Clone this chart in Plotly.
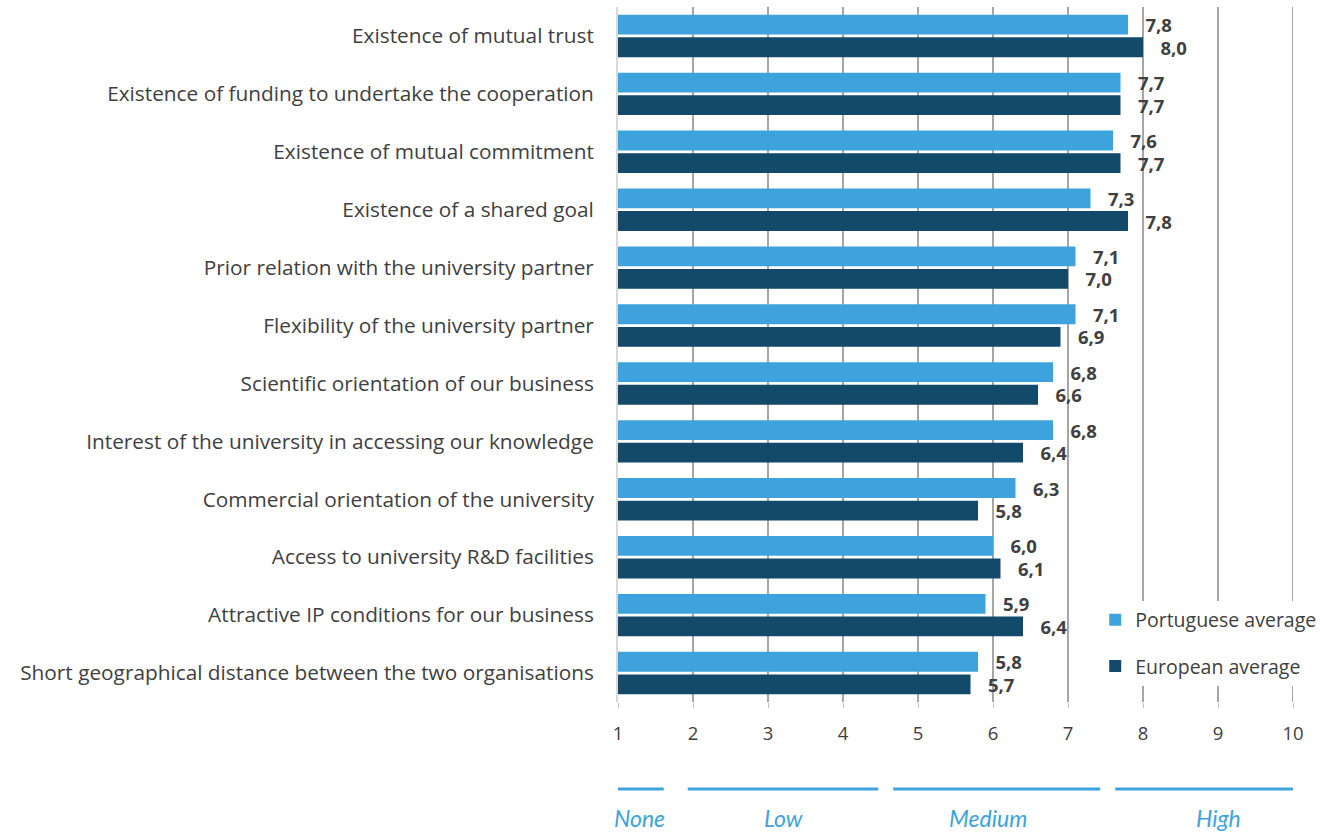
import plotly.graph_objects as go

categories = [
    "Existence of mutual trust",
    "Existence of funding to undertake the cooperation",
    "Existence of mutual commitment",
    "Existence of a shared goal",
    "Prior relation with the university partner",
    "Flexibility of the university partner",
    "Scientific orientation of our business",
    "Interest of the university in accessing our knowledge",
    "Commercial orientation of the university",
    "Access to university R&D facilities",
    "Attractive IP conditions for our business",
    "Short geographical distance between the two organisations",
]
portuguese = [7.8, 7.7, 7.6, 7.3, 7.1, 7.1, 6.8, 6.8, 6.3, 6.0, 5.9, 5.8]
european = [8.0, 7.7, 7.7, 7.8, 7.0, 6.9, 6.6, 6.4, 5.8, 6.1, 6.4, 5.7]
series_names = ["Portuguese average", "European average"]
tick_values = [1, 2, 3, 4, 5, 6, 7, 8, 9, 10]
band_labels = ["None", "Low", "Medium", "High"]

# decorative layout for the scale bands (axis units)
band_line_x = [(0.92, 1.61), (1.93, 4.47), (4.67, 7.43), (7.63, 10.16)]
band_text_x = [1.29, 3.2, 5.93, 9.0]

FONT = "Open Sans"
TXT = "#404040"
LIGHT = "#3EA3DC"
DARK = "#134A6A"
GRID = "#A6A6A6"


def fmt(v):
    return "\u00a0\u00a0\u00a0" + f"{v:.1f}".replace(".", ",")


fig = go.Figure()
for name, vals, col in [(series_names[0], portuguese, LIGHT), (series_names[1], european, DARK)]:
    fig.add_trace(go.Bar(
        name=name, y=categories, x=[v - 1 for v in vals], base=1,
        orientation="h", marker=dict(color=col, line=dict(width=0)),
        text=[fmt(v) for v in vals], textposition="outside",
        textfont=dict(family=FONT, size=18.5, color=TXT, weight="bold"),
        constraintext="none", cliponaxis=False, legendgroup=name,
        hoverinfo="skip",
    ))

# gridline at the right end of the axis (plotly omits it at the range edge)
fig.add_shape(type="line", xref="x", yref="paper", x0=tick_values[-1], x1=tick_values[-1],
              y0=0, y1=1, layer="below", line=dict(color=GRID, width=2))

for (x0, x1) in band_line_x:
    fig.add_shape(type="line", xref="x", yref="paper", x0=x0, x1=x1,
                  y0=-0.125, y1=-0.125, line=dict(color=LIGHT, width=3))
for lab, xc in zip(band_labels, band_text_x):
    fig.add_annotation(text=f"<i>{lab}</i>", xref="x", yref="paper", x=xc, y=-0.167,
                       showarrow=False, font=dict(family="Lato", size=23, color=LIGHT),
                       xanchor="center", yanchor="middle")

fig.update_layout(
    width=1340, height=832,
    margin=dict(l=618, r=47, t=7, b=130),
    paper_bgcolor="white", plot_bgcolor="white",
    barmode="group", bargap=0.22, bargroupgap=0.12,
    font=dict(family=FONT, size=18, color=TXT),
    showlegend=True,
    legend=dict(x=0.707, y=0.146, xanchor="left", yanchor="top",
                bgcolor="white", font=dict(family=FONT, size=19.5, color=TXT),
                tracegroupgap=18, traceorder="grouped"),
)
fig.update_xaxes(range=[1, 10], tickvals=tick_values, showgrid=True,
                 gridcolor=GRID, gridwidth=2, zeroline=False,
                 showline=False, ticks="outside", ticklen=5, tickcolor="#BFBFBF",
                 tickfont=dict(family=FONT, size=18.5, color=TXT),
                 ticklabelstandoff=10, automargin=False)
fig.update_yaxes(autorange="reversed", showline=True, linecolor="#D9D9D9", linewidth=2,
                 ticks="", tickfont=dict(family=FONT, size=20.8, color=TXT),
                 ticklabelstandoff=18, automargin=False)

fig.write_html("out.html")
